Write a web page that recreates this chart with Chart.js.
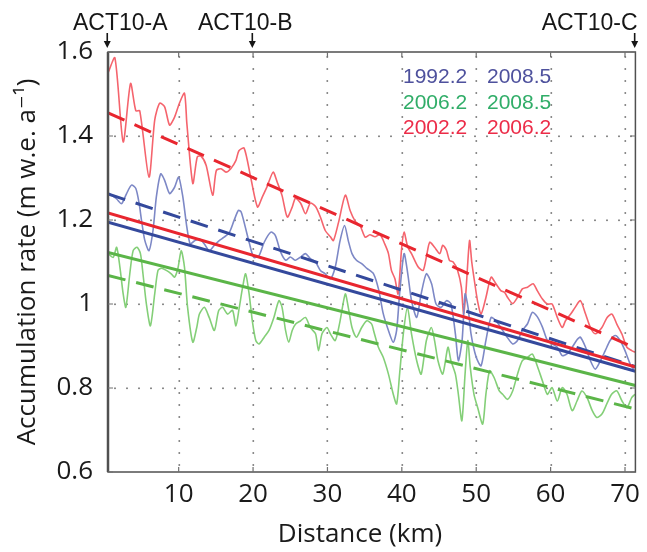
<!DOCTYPE html>
<html><head><meta charset="utf-8">
<script src="https://cdn.jsdelivr.net/npm/chart.js@4.4.1/dist/chart.umd.min.js"></script>
<style>html,body{margin:0;padding:0;background:#fff;}canvas{display:block;}</style>
</head><body>
<canvas id="c" width="647" height="552"></canvas>
<script>
// ---- data ----
const xTicks = [10, 20, 30, 40, 50, 60, 70];
const yTicks = [0.6, 0.8, 1.0, 1.2, 1.4, 1.6];
const markerLabels = ['ACT10-A', 'ACT10-B', 'ACT10-C'];
const markerKm = [0.4, 19.9, 71.3];
const legendFrom = ['1992.2', '2006.2', '2002.2'];
const legendTo = ['2008.5', '2008.5', '2006.2'];
const xTitle = 'Distance (km)';
const yTitle = 'Accumulation rate (m w.e. a\u207B\u00B9)';

// red: 2002.2 - 2006.2
const redKm = [0.5,1.43,2.54,3.53,4.24,4.77,6.01,6.78,7.44,8.1,8.78,9.45,10.1,10.78,11.1,11.9,12.5,13.0,13.7,14.57,15.06,15.7,16.36,17.0,17.7,18.1,18.8,19.7,20.6,21.25,21.9,22.7,23.25,23.9,24.6,25.25,25.7,26.4,27.05,27.7,28.4,29.05,29.7,30.4,30.8,31.5,32.4,33.06,33.7,34.4,35.07,35.7,36.4,37.07,37.7,38.2,38.6,39.07,39.5,39.96,40.3,40.8,41.3,42.2,42.86,43.3,43.75,44.4,45.1,45.5,46.0,46.4,46.9,47.5,48.0,48.3,48.6,49.1,49.4,49.8,50.2,50.65,51.3,52.0,52.65,53.3,53.8,54.2,54.9,55.55,56.2,56.9,57.65,58.2,58.9,59.56,60.2,60.9,61.56,62.0,62.7,63.3,64.0,64.7,65.35,66.0,66.9,67.6,68.25,68.9,69.6,70.25,70.9,71.36];
const redVal = [1.55,1.586,1.386,1.525,1.46,1.46,1.302,1.438,1.478,1.47,1.426,1.445,1.478,1.502,1.43,1.287,1.35,1.352,1.33,1.259,1.318,1.322,1.314,1.322,1.342,1.365,1.371,1.3,1.231,1.255,1.28,1.314,1.29,1.258,1.207,1.23,1.252,1.24,1.215,1.24,1.232,1.207,1.175,1.16,1.151,1.195,1.259,1.222,1.198,1.186,1.159,1.165,1.16,1.165,1.143,1.12,1.08,1.06,1.024,1.13,1.171,1.135,1.12,1.088,1.08,1.112,1.147,1.135,1.12,1.14,1.128,1.104,1.1,1.08,1.04,0.976,1.025,1.151,1.1,1.05,1.005,0.976,1.015,1.064,1.048,1.032,1.028,1.016,1.001,1.016,1.036,1.04,1.048,1.032,1.012,1.0,1.0,0.968,0.944,0.96,0.976,0.992,1.008,0.976,0.944,0.929,0.944,0.968,0.976,0.952,0.928,0.897,0.889,0.885];

// blue: 1992.2 - 2008.5
const blueKm = [0.5,1.66,2.33,3.0,3.66,4.24,4.68,5.0,5.44,6.01,6.55,7.0,7.58,8.1,8.78,9.45,10.0,10.56,11.1,11.55,12.1,12.8,13.46,14.1,14.8,15.45,16.1,16.8,17.45,18.04,18.4,19.0,19.5,20.1,20.8,21.5,22.4,23.0,23.7,24.4,25.0,25.7,26.4,27.05,27.7,28.4,29.05,29.7,30.4,31.05,31.7,32.3,32.8,33.3,33.9,34.6,35.3,36.2,36.9,37.5,38.2,38.85,39.3,39.7,40.3,40.8,41.3,42.0,42.6,43.3,44.0,44.6,45.3,46.0,46.6,47.2,47.6,48.1,48.5,48.9,49.3,50.0,50.65,51.3,52.0,52.65,53.3,54.2,54.9,55.55,56.2,56.9,57.55,58.2,58.9,59.56,60.2,60.9,61.56,62.2,62.9,63.6,64.0,64.7,65.35,66.0,66.7,67.35,68.0,68.7,69.35,70.0,70.7,71.15];
const blueVal = [1.265,1.25,1.239,1.263,1.283,1.275,1.24,1.2,1.152,1.127,1.175,1.255,1.31,1.295,1.263,1.278,1.302,1.255,1.183,1.143,1.15,1.155,1.143,1.127,1.14,1.151,1.159,1.17,1.199,1.223,1.219,1.18,1.145,1.111,1.115,1.147,1.171,1.163,1.124,1.104,1.112,1.104,1.112,1.12,1.108,1.1,1.08,1.072,1.06,1.088,1.151,1.187,1.151,1.12,1.104,1.096,1.085,1.072,1.033,0.977,0.937,0.909,0.937,1.024,1.12,1.072,1.008,0.968,1.024,1.072,1.048,1.0,0.992,1.008,1.0,0.929,0.865,0.913,1.024,0.992,0.929,0.873,0.853,0.913,0.968,0.96,0.944,0.92,0.905,0.913,0.937,0.953,0.98,0.97,0.945,0.913,0.905,0.897,0.877,0.881,0.897,0.916,0.921,0.897,0.865,0.845,0.865,0.889,0.913,0.925,0.913,0.889,0.857,0.845];

// green: 2006.2 - 2008.5
const greenKm = [0.5,1.2,1.66,2.1,2.54,2.9,3.43,3.88,4.41,4.86,5.2,5.66,6.2,6.78,7.22,7.67,8.34,9.0,9.45,9.9,10.34,10.78,11.2,11.9,12.43,12.79,13.46,14.1,14.8,15.37,15.9,16.57,17.24,17.7,18.13,18.6,19.0,19.47,19.9,20.37,20.8,21.5,22.14,22.8,23.47,23.9,24.37,24.8,25.26,25.7,26.4,27.05,27.7,28.4,28.8,29.27,29.93,30.4,31.05,31.7,32.4,32.8,33.3,33.9,34.6,35.3,35.95,36.2,36.85,37.5,38.2,38.85,39.3,39.7,40.2,40.75,41.3,42.0,42.6,43.3,43.97,44.4,44.86,45.5,46.2,46.6,47.2,47.6,48.07,48.5,48.87,49.2,49.7,50.2,50.87,51.3,51.8,52.4,53.1,53.55,54.2,54.9,55.55,56.2,56.9,57.55,58.2,58.9,59.56,60.2,60.9,61.56,62.2,62.9,63.55,64.2,64.9,65.6,66.2,66.9,67.55,68.2,68.9,69.6,70.25,70.9,71.36];
const greenVal = [1.12,1.111,1.135,1.088,1.024,0.992,1.072,1.127,1.135,1.12,1.072,1.0,0.948,1.024,1.08,1.085,1.08,1.072,1.064,1.085,1.127,1.088,0.992,0.909,0.944,0.976,0.992,0.968,0.937,0.984,0.992,0.976,0.985,0.948,0.99,1.04,1.072,1.024,0.96,0.913,0.905,0.921,0.937,0.968,1.008,0.992,0.937,0.909,0.937,0.952,0.96,0.968,0.944,0.929,0.889,0.929,0.944,0.929,0.913,0.96,1.024,0.992,0.944,0.921,0.944,0.96,0.952,0.937,0.897,0.873,0.833,0.785,0.762,0.833,0.929,0.992,0.929,0.865,0.833,0.913,0.944,0.913,0.865,0.833,0.897,0.865,0.833,0.785,0.722,0.833,0.913,0.849,0.785,0.753,0.714,0.785,0.841,0.825,0.793,0.785,0.773,0.793,0.833,0.865,0.873,0.881,0.853,0.817,0.785,0.801,0.769,0.801,0.785,0.746,0.769,0.793,0.777,0.746,0.73,0.738,0.762,0.785,0.793,0.769,0.753,0.777,0.785];

// linear fits: [start km, end km], [start value, end value]
const fitKm = [0.5, 71.4];
const redSolid = [1.217, 0.850];
const blueSolid = [1.195, 0.840];
const greenSolid = [1.123, 0.806];
const redDashed = [1.455, 0.895];
const blueDashed = [1.262, 0.851];
const greenDashed = [1.068, 0.750];

// ---- build ----
const pts = (xs, ys) => xs.map((x, i) => ({x: x, y: ys[i]}));
const C = {
  red: '#e8262f', blue: '#34499c', green: '#5bb548',
  redN: '#f5646d', blueN: '#7d88c6', greenN: '#84cf78'
};
const FONT = '"Open Sans", "DejaVu Sans", sans-serif';
const ARIAL = '"Liberation Sans", Arial, sans-serif';

function fitDs(vals, color, dashed) {
  return {data: pts(fitKm, vals), borderColor: color, borderWidth: 3,
    borderDash: dashed ? [18, 11] : [], showLine: true, pointRadius: 0, tension: 0};
}
function noisyDs(xs, ys, color) {
  return {data: pts(xs, ys), borderColor: color, borderWidth: 1.6, showLine: true,
    pointRadius: 0, tension: 0.25};
}

const deco = {
  id: 'deco',
  beforeDatasetsDraw(chart) {
    // dotted grid
    const ctx = chart.ctx, a = chart.chartArea, xs = chart.scales.x, ys = chart.scales.y;
    ctx.save();
    ctx.fillStyle = '#8a8a8a';
    xTicks.forEach(v => {
      const px = Math.round(xs.getPixelForValue(v));
      for (let y = a.top + 4; y < a.bottom - 2; y += 12) ctx.fillRect(px - 0.5, y, 1.6, 2);
    });
    yTicks.forEach(v => {
      const py = Math.round(ys.getPixelForValue(v));
      if (py <= a.top + 2 || py >= a.bottom - 2) return;
      for (let x = a.left + 6; x < a.right - 2; x += 12) ctx.fillRect(x, py - 0.5, 2, 1.6);
    });
    ctx.restore();
  },
  afterDraw(chart) {
    const ctx = chart.ctx, a = chart.chartArea, xs = chart.scales.x, ys = chart.scales.y;
    ctx.save();
    // box
    ctx.strokeStyle = '#505050';
    ctx.lineWidth = 1.5;
    ctx.strokeRect(a.left, a.top, a.right - a.left, a.bottom - a.top);
    ctx.lineWidth = 2.5;
    ctx.beginPath(); ctx.moveTo(a.left, a.top); ctx.lineTo(a.left, a.bottom); ctx.stroke();
    // inner tick marks
    ctx.lineWidth = 1.2; ctx.strokeStyle = '#707070';
    xTicks.forEach(v => {
      const px = xs.getPixelForValue(v);
      ctx.beginPath(); ctx.moveTo(px, a.top); ctx.lineTo(px, a.top + 5);
      ctx.moveTo(px, a.bottom); ctx.lineTo(px, a.bottom - 5); ctx.stroke();
    });
    yTicks.forEach(v => {
      const py = ys.getPixelForValue(v);
      ctx.beginPath(); ctx.moveTo(a.left, py); ctx.lineTo(a.left + 5, py);
      ctx.moveTo(a.right, py); ctx.lineTo(a.right - 5, py); ctx.stroke();
    });
    // markers
    ctx.fillStyle = '#161616'; ctx.strokeStyle = '#161616';
    ctx.font = '23px ' + ARIAL;
    ctx.textBaseline = 'alphabetic';
    const shift = [13, -7, -45];
    markerLabels.forEach((t, i) => {
      const px = xs.getPixelForValue(markerKm[i]);
      ctx.textAlign = 'center';
      ctx.fillText(t, px + shift[i], 30);
      ctx.lineWidth = 1.6;
      ctx.beginPath(); ctx.moveTo(px, 33); ctx.lineTo(px, 42); ctx.stroke();
      ctx.beginPath(); ctx.moveTo(px - 3.5, 41); ctx.lineTo(px + 3.5, 41); ctx.lineTo(px, 48); ctx.closePath(); ctx.fill();
    });
    // legend
    const lc = ['#4e519d', '#30ad68', '#ec2c48'];
    ctx.font = '21px ' + ARIAL;
    ctx.textAlign = 'left';
    const base = [83, 108.5, 134];
    legendFrom.forEach((t, i) => {
      ctx.fillStyle = lc[i];
      ctx.fillText(t, 403, base[i]);
      ctx.fillText(legendTo[i], 487, base[i]);
    });
    // x title
    ctx.fillStyle = '#1a1a1a';
    ctx.font = '26px ' + FONT;
    ctx.textAlign = 'center';
    ctx.fillText(xTitle, 360, 542);
    ctx.restore();
  }
};

new Chart(document.getElementById('c'), {
  type: 'scatter',
  data: {datasets: [
    fitDs(redSolid, C.red, false),
    fitDs(blueSolid, C.blue, false),
    fitDs(greenSolid, C.green, false),
    fitDs(redDashed, C.red, true),
    fitDs(blueDashed, C.blue, true),
    fitDs(greenDashed, C.green, true),
    noisyDs(blueKm, blueVal, C.blueN),
    noisyDs(greenKm, greenVal, C.greenN),
    noisyDs(redKm, redVal, C.redN)
  ]},
  options: {
    responsive: false, animation: false, devicePixelRatio: 1, events: [],
    layout: {padding: {top: 52, right: 7, bottom: 0, left: 0}},
    plugins: {legend: {display: false}, tooltip: {enabled: false}},
    scales: {
      x: {
        type: 'linear', min: 0.5, max: 71.4,
        afterBuildTicks: s => { s.ticks = xTicks.map(v => ({value: v})); },
        afterFit: s => { s.height = 80; },
        grid: {display: false, drawTicks: false},
        border: {display: false},
        ticks: {font: {family: FONT, size: 26}, color: '#1a1a1a', padding: 7, maxRotation: 0}
      },
      y: {
        type: 'linear', min: 0.6, max: 1.6,
        afterBuildTicks: s => { s.ticks = yTicks.map(v => ({value: v})); },
        afterFit: s => { s.width = 108; },
        grid: {display: false, drawTicks: false},
        border: {display: false},
        ticks: {font: {family: FONT, size: 26}, color: '#1a1a1a', padding: 15,
          callback: v => (Math.abs(v - 1) < 1e-9 ? '1' : v.toFixed(1))},
        title: {display: true, text: yTitle, font: {family: FONT, size: 26}, color: '#1a1a1a',
          padding: {top: 12, bottom: 0}}
      }
    }
  },
  plugins: [deco]
});
</script>
</body></html>
